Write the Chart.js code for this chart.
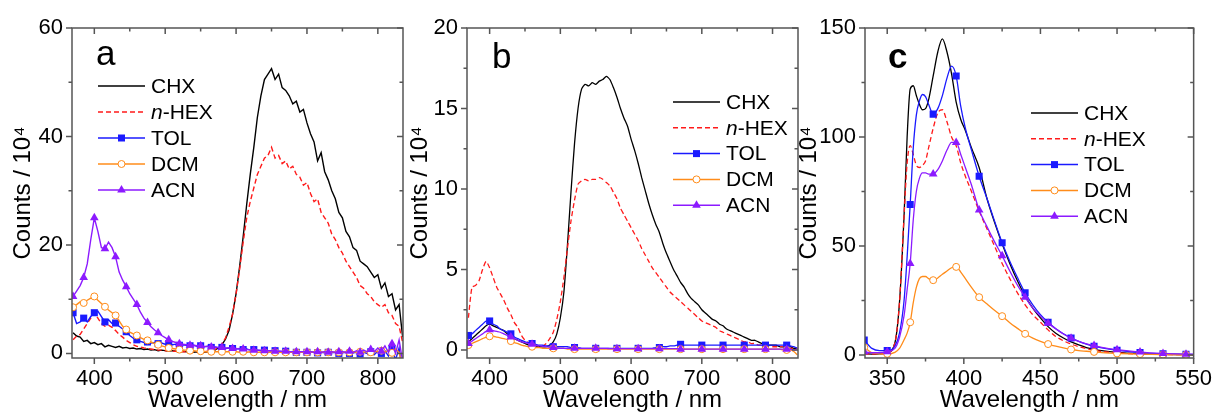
<!DOCTYPE html>
<html>
<head>
<meta charset="utf-8">
<script src="https://cdn.jsdelivr.net/npm/chart.js@4.4.1/dist/chart.umd.min.js"></script>
<style>
  body { margin: 0; background: #fff; }
  #wrap { position: relative; width: 1220px; height: 415px; overflow: hidden; }
  .panel { position: absolute; top: 0; height: 415px; }
</style>
</head>
<body>
<div id="wrap">
  <div class="panel" style="left:0;width:410px"><canvas id="chartA"></canvas></div>
  <div class="panel" style="left:405px;width:400px"><canvas id="chartB"></canvas></div>
  <div class="panel" style="left:795px;width:425px"><canvas id="chartC"></canvas></div>
</div>
<script>
const seriesNames = ['CHX', 'n-HEX', 'TOL', 'DCM', 'ACN'];

// panels a and b share the same wavelength grid
const wavelengthAB = [370,375,380,385,390,395,400,405,410,415,420,425,430,435,440,445,450,455,460,465,
  470,475,480,485,490,495,500,505,510,515,520,525,530,535,540,545,550,555,560,565,
  570,575,580,585,590,595,600,605,610,615,620,625,630,635,640,645,650,655,660,665,
  670,675,680,685,690,695,700,705,710,715,720,725,730,735,740,745,750,755,760,765,
  770,775,780,785,790,795,800,805,810,815,820,825,830,835];

// panel a
const chxA = [3.8,3.2,3.0,2.2,2.4,1.8,2.0,1.6,1.8,1.2,
  1.5,1.3,1.1,1.3,1.0,1.1,0.9,1.0,0.8,0.9,
  0.7,0.8,0.6,0.7,0.5,0.6,0.5,0.4,0.5,0.4,
  0.3,0.4,0.3,0.3,0.2,0.3,0.2,0.2,0.3,0.4,
  0.6,1.0,1.6,2.6,4.2,7.2,11.0,16.0,21.5,27.5,
  33.0,38.0,43.5,47.5,50.5,51.5,52.5,50.5,51.5,49.0,
  48.5,47.5,46.0,46.5,44.5,45.0,42.5,40.5,39.0,35.5,
  37.0,33.5,32.0,30.0,28.5,26.0,25.0,22.5,21.5,19.5,
  19.0,17.0,16.5,16.0,15.0,14.0,14.5,12.0,13.0,10.5,
  11.0,8.0,9.0,3.0];
const hexA = [2.5,3.2,3.5,4.5,5.5,6.5,7.5,6.5,5.5,5.0,
  5.2,4.8,4.2,3.5,3.0,2.4,2.0,1.6,1.3,1.2,
  1.0,0.9,0.8,0.7,0.6,0.6,0.5,0.5,0.4,0.4,
  0.4,0.3,0.3,0.3,0.3,0.3,0.3,0.3,0.4,0.5,
  0.7,1.1,1.8,2.8,4.8,7.2,11.0,15.5,20.5,25.0,
  28.0,30.5,33.0,34.5,36.0,36.5,38.0,36.0,36.5,35.0,
  35.5,34.0,34.5,33.0,32.5,31.0,31.5,29.5,28.0,28.5,
  26.0,25.0,24.0,22.0,21.0,19.5,18.5,17.0,16.0,15.0,
  14.0,12.5,12.0,11.0,10.5,9.5,9.0,8.5,9.0,7.5,
  7.0,5.5,5.0,2.0];
const tolA = [7.5,5.5,5.8,6.5,5.8,6.8,7.5,7.8,6.8,5.8,
  6.2,5.5,5.6,5.0,4.5,4.0,3.3,2.8,2.5,2.2,
  2.0,2.1,1.9,2.0,1.8,1.9,1.7,1.8,1.6,1.7,
  1.5,1.6,1.5,1.4,1.5,1.3,1.4,1.2,1.3,1.1,
  1.2,1.0,1.1,0.9,1.0,0.9,0.8,0.9,0.7,0.8,
  0.6,0.7,0.6,0.5,0.6,0.5,0.4,0.5,0.4,0.3,
  0.4,0.3,0.3,0.2,0.3,0.2,0.2,0.3,0.2,0.1,
  0.2,0.1,0.2,0.1,0.2,0.0,0.1,0.2,0.0,0.1,
  0.2,-0.1,0.2,0.0,0.3,-0.2,0.4,0.0,0.5,-0.5,
  0.8,-1.2,1.0,-4.0];
const dcmA = [8.5,9.0,9.5,9.3,9.8,10.2,10.5,9.8,9.2,8.6,
  8.0,7.5,7.0,6.0,5.0,4.4,3.9,3.6,3.3,2.9,
  2.6,2.4,2.1,1.8,1.6,1.4,1.2,1.0,0.9,0.8,
  0.7,0.6,0.6,0.5,0.5,0.4,0.4,0.3,0.3,0.3,
  0.3,0.3,0.3,0.3,0.3,0.3,0.3,0.2,0.3,0.2,
  0.3,0.2,0.2,0.2,0.2,0.2,0.2,0.2,0.2,0.2,
  0.2,0.2,0.2,0.2,0.2,0.2,0.2,0.2,0.2,0.2,
  0.2,0.2,0.2,0.2,0.2,0.2,0.2,0.2,0.2,0.3,
  0.2,0.3,0.2,0.4,0.2,0.4,0.3,0.5,0.2,0.6,
  0.1,0.8,0.2,-2.5];
const acnA = [10.5,11.5,12.5,14.0,16.5,21.0,25.0,22.5,19.5,19.3,
  20.5,19.5,17.8,15.0,13.5,12.3,11.0,10.0,9.0,7.6,
  6.5,5.7,4.9,4.3,3.8,3.3,2.9,2.5,2.2,2.0,
  1.8,1.7,1.6,1.5,1.5,1.4,1.4,1.3,1.3,1.2,
  1.2,1.1,1.1,1.0,1.0,0.9,0.9,0.8,0.8,0.7,
  0.7,0.6,0.6,0.6,0.5,0.5,0.5,0.4,0.4,0.4,
  0.4,0.3,0.3,0.3,0.3,0.3,0.3,0.3,0.2,0.3,
  0.2,0.3,0.2,0.3,0.2,0.3,0.3,0.2,0.4,0.2,
  0.5,0.2,0.6,0.3,0.7,0.3,1.0,0.4,1.4,0.2,
  1.8,0.0,2.5,-1.5];

// panel b
const chxB = [0.5,0.7,0.9,1.1,1.3,1.5,1.6,1.5,1.4,1.3,
  1.2,1.0,0.9,0.7,0.6,0.5,0.4,0.3,0.3,0.2,
  0.2,0.2,0.2,0.3,0.5,1.0,2.0,3.6,6.5,9.8,
  12.8,15.0,16.2,16.5,16.4,16.6,16.5,16.7,16.8,17.0,
  16.8,16.3,15.7,15.0,14.4,13.9,13.1,12.4,11.6,10.7,
  9.9,9.1,8.4,7.8,7.3,6.6,6.0,5.5,5.0,4.6,
  4.2,3.9,3.5,3.2,3.0,2.8,2.5,2.3,2.1,1.9,
  1.8,1.6,1.5,1.3,1.2,1.1,1.0,0.9,0.8,0.7,
  0.6,0.6,0.5,0.4,0.4,0.3,0.3,0.3,0.2,0.2,
  0.2,0.2,0.1,0.1];
const hexB = [2.0,3.9,4.0,4.3,5.0,5.5,5.1,4.5,3.9,3.5,
  3.1,2.6,2.2,1.7,1.4,0.9,0.6,0.45,0.35,0.3,
  0.25,0.25,0.4,0.7,1.1,1.9,3.0,4.5,6.3,8.0,
  9.3,10.3,10.5,10.6,10.5,10.6,10.6,10.7,10.6,10.4,
  10.2,9.8,9.4,8.8,8.4,8.0,7.6,7.2,6.8,6.3,
  5.9,5.5,5.1,4.8,4.5,4.2,3.9,3.6,3.4,3.2,
  3.0,2.8,2.6,2.4,2.2,2.0,1.8,1.7,1.6,1.5,
  1.4,1.2,1.1,1.0,0.9,0.8,0.7,0.6,0.5,0.5,
  0.4,0.4,0.3,0.3,0.3,0.2,0.2,0.2,0.2,0.2,
  0.1,0.1,0.1,0.1];
const tolB = [0.9,1.0,1.2,1.4,1.6,1.8,1.8,1.6,1.5,1.3,
  1.2,1.1,1.0,0.8,0.7,0.6,0.5,0.45,0.4,0.35,
  0.3,0.3,0.25,0.25,0.2,0.2,0.2,0.2,0.2,0.15,
  0.15,0.15,0.1,0.1,0.1,0.1,0.1,0.1,0.1,0.1,
  0.1,0.1,0.1,0.1,0.1,0.1,0.1,0.1,0.1,0.1,
  0.1,0.1,0.1,0.15,0.15,0.2,0.2,0.25,0.25,0.3,
  0.35,0.3,0.3,0.3,0.3,0.3,0.3,0.3,0.3,0.3,
  0.3,0.3,0.3,0.3,0.3,0.3,0.3,0.3,0.3,0.3,
  0.3,0.3,0.3,0.3,0.3,0.3,0.3,0.3,0.3,0.3,
  0.3,0.25,0.2,0.1];
const dcmB = [0.3,0.4,0.5,0.6,0.7,0.8,0.85,0.85,0.8,0.75,
  0.7,0.65,0.55,0.45,0.4,0.3,0.25,0.2,0.2,0.15,
  0.15,0.1,0.1,0.1,0.1,0.1,0.1,0.1,0.05,0.05,
  0.05,0.05,0.05,0.05,0.05,0.05,0.05,0.05,0.05,0.05,
  0.05,0.05,0.05,0.05,0.05,0.05,0.05,0.05,0.05,0.05,
  0.05,0.05,0.05,0.05,0.05,0.05,0.05,0.05,0.05,0.05,
  0.05,0.05,0.05,0.05,0.05,0.05,0.05,0.05,0.05,0.05,
  0.05,0.05,0.05,0.05,0.05,0.05,0.05,0.05,0.05,0.05,
  0.05,0.05,0.05,0.05,0.05,0.05,0.05,0.05,0.05,0.0,
  0.0,0.0,-0.1,-0.3];
const acnB = [0.4,0.55,0.7,0.85,1.0,1.15,1.25,1.2,1.15,1.1,
  1.0,0.9,0.8,0.7,0.6,0.5,0.45,0.4,0.35,0.3,
  0.25,0.22,0.2,0.18,0.15,0.12,0.1,0.1,0.1,0.1,
  0.1,0.1,0.1,0.1,0.1,0.1,0.1,0.1,0.1,0.1,
  0.08,0.08,0.08,0.08,0.08,0.08,0.08,0.08,0.08,0.08,
  0.08,0.08,0.08,0.08,0.08,0.08,0.08,0.08,0.08,0.08,
  0.05,0.05,0.05,0.05,0.05,0.05,0.05,0.05,0.05,0.05,
  0.05,0.05,0.05,0.05,0.05,0.05,0.05,0.05,0.05,0.05,
  0.05,0.05,0.05,0.05,0.05,0.05,0.05,0.05,0.05,0.05,
  0.05,0.05,0.0,0.0];

// panel c
const wavelengthC = [335,340,345,350,355,358,361,363,365,367,369,371,373,375,377,380,383,386,389,392,
  395,398,401,405,410,415,420,425,430,435,440,445,450,455,460,465,470,475,480,485,
  490,500,515,530,545,550];
const chxC = [0.5,0.4,0.5,1.0,5.5,24,64,100,122,123.5,119,115,112.5,113,117,128,139,145,139,129,
  116,108,103,95,86,72,61,51,42,34,27,21.5,17,13,10,7.8,6,4.6,3.4,2.6,
  2,1.2,0.6,0.3,0.15,0.1];
const hexC = [0.5,0.4,0.5,1.0,5.5,24,64,88,96,92,87,86,87,89,95,104,111,112.5,107,100,
  96,88,82,75,66,58,50,42,35,28.5,23,18.5,15,11.5,8.5,6.5,5,3.8,2.9,2.2,
  1.6,1.0,0.4,0.2,0.1,0.1];
const tolC = [6.8,3,2,2,4,10,25,45,69,95,110,116.5,119.5,118.5,115,110.5,113,119,127,132.5,
  128,114,104,94,82,72,61.5,51.5,43,35.5,28.5,23,18.5,15,12,9.7,7.8,6.2,5,4,
  3.2,2.1,1.1,0.5,0.25,0.2];
const dcmC = [3.5,1,0.5,0.5,1.2,3,7,10,15,24,31,35,36,36,35,34.3,35.3,37,38.5,40,
  40.4,38,35,31,26.5,23.5,20.5,17.8,14.8,12.2,9.7,7.7,6.2,5,4,3.2,2.5,2,1.7,1.4,
  1.1,0.7,0.4,0.2,0.1,0.1];
const acnC = [1.5,1,1,1.5,3,8,18,30,42,62,75,81,83.5,83.5,83,83,85,89,94,97.5,
  97.5,92,86,78,66.5,59,52,45.5,38.5,32,26.5,21.5,17.8,14.6,12,9.6,7.7,6.2,5.1,4.3,
  3.5,2.4,1.3,0.7,0.35,0.3];

// tick labels
const xTicksAB = [400, 500, 600, 700, 800];
const xTicksC = [350, 400, 450, 500, 550];
const yTicksA = [0, 20, 40, 60];
const yTicksB = [0, 5, 10, 15, 20];
const yTicksC = [0, 50, 100, 150];

const FONT = "'Liberation Sans', Arial, sans-serif";
const styles = [
  { color: '#000000', dash: [], marker: null },
  { color: '#ff1a1a', dash: [5, 3], marker: null },
  { color: '#1a1aff', dash: [], marker: 'rect' },
  { color: '#ff8c1a', dash: [], marker: 'circle' },
  { color: '#8c1aff', dash: [], marker: 'triangle' }
];
const markerSize = { rect: 5, circle: 3.5, triangle: 5 };

function drawMarker(ctx, kind, x, y, color) {
  ctx.save();
  ctx.setLineDash([]);
  ctx.beginPath();
  if (kind === 'rect') {
    ctx.rect(x - 3.5, y - 3.5, 7, 7);
    ctx.fillStyle = color;
    ctx.fill();
  } else if (kind === 'circle') {
    ctx.arc(x, y, 3.5, 0, Math.PI * 2);
    ctx.fillStyle = '#fff';
    ctx.fill();
    ctx.lineWidth = 1;
    ctx.strokeStyle = color;
    ctx.stroke();
  } else if (kind === 'triangle') {
    const r = 5;
    ctx.moveTo(x, y - r);
    ctx.lineTo(x + r * 0.866, y + r * 0.5);
    ctx.lineTo(x - r * 0.866, y + r * 0.5);
    ctx.closePath();
    ctx.fillStyle = color;
    ctx.fill();
  }
  ctx.restore();
}

// box around the plot, outward ticks bottom/left, inward ticks top/right
const frameTicks = {
  id: 'frameTicks',
  afterDraw(chart) {
    const { ctx, chartArea: a } = chart;
    const list = scale => {
      const major = scale.ticks.map(t => t.value);
      const half = (major[1] - major[0]) / 2;
      const out = [];
      for (let v = major[0] - half; v <= scale.max + 1e-9; v += half) {
        if (v >= scale.min - 1e-9) out.push([v, major.some(m => Math.abs(m - v) < 1e-6)]);
      }
      return out;
    };
    ctx.save();
    ctx.strokeStyle = '#555';
    ctx.lineWidth = 1.5;
    ctx.strokeRect(a.left, a.top, a.right - a.left, a.bottom - a.top);
    ctx.beginPath();
    list(chart.scales.x).forEach(([v, major]) => {
      const p = chart.scales.x.getPixelForValue(v);
      const len = major ? 6 : 3.5;
      ctx.moveTo(p, a.bottom); ctx.lineTo(p, a.bottom + len);
      ctx.moveTo(p, a.top); ctx.lineTo(p, a.top + len);
    });
    list(chart.scales.y).forEach(([v, major]) => {
      const p = chart.scales.y.getPixelForValue(v);
      const len = major ? 6 : 3.5;
      ctx.moveTo(a.left, p); ctx.lineTo(a.left - len, p);
      ctx.moveTo(a.right, p); ctx.lineTo(a.right - len, p);
    });
    ctx.stroke();
    ctx.restore();
  }
};

// in-plot legend and panel letter
const annot = {
  id: 'annot',
  afterDraw(chart, args, opts) {
    const { ctx, chartArea: a } = chart;
    ctx.save();
    ctx.fillStyle = '#000';
    ctx.textBaseline = 'alphabetic';
    ctx.font = (opts.bold ? 'bold ' : '') + '35px ' + FONT;
    ctx.fillText(opts.letter, a.left + opts.letterX, a.top + 40 - (opts.letter === 'a' ? 3 : 0));

    ctx.textBaseline = 'middle';
    chart.data.datasets.forEach((ds, i) => {
      const st = styles[i];
      const y = a.top + opts.y + i * opts.gap;
      const x0 = a.left + opts.x;
      ctx.beginPath();
      ctx.strokeStyle = st.color;
      ctx.lineWidth = 1.5;
      ctx.setLineDash(st.dash);
      ctx.moveTo(x0, y);
      ctx.lineTo(x0 + 47, y);
      ctx.stroke();
      ctx.setLineDash([]);
      if (st.marker) drawMarker(ctx, st.marker, x0 + 23.5, y, st.color);
      let tx = x0 + 53;
      ctx.fillStyle = '#000';
      if (seriesNames[i] === 'n-HEX') {
        ctx.font = 'italic 21px ' + FONT;
        ctx.fillText('n', tx, y + 1);
        tx += ctx.measureText('n').width;
        ctx.font = '21px ' + FONT;
        ctx.fillText('-HEX', tx, y + 1);
      } else {
        ctx.font = '21px ' + FONT;
        ctx.fillText(seriesNames[i], tx, y + 1);
      }
    });
    ctx.restore();
  }
};

function makePanel(id, p) {
  const datasets = p.series.map((vals, i) => {
    const st = styles[i];
    return {
      label: seriesNames[i],
      data: p.wl.map((w, k) => ({ x: w, y: vals[k] })),
      borderColor: st.color,
      backgroundColor: st.marker === 'circle' ? '#fff' : st.color,
      borderWidth: p.lw,
      borderDash: st.dash,
      pointStyle: st.marker || 'circle',
      pointBorderWidth: st.marker === 'circle' ? 1 : 0,
      pointBorderColor: st.color,
      pointBackgroundColor: st.marker === 'circle' ? '#fff' : st.color,
      pointRadius: c => (st.marker && c.raw && Math.abs((c.raw.x - p.markStart) % p.markStep) < 1e-6) ? markerSize[st.marker] : 0,
      tension: p.tension,
      cubicInterpolationMode: p.monotone ? 'monotone' : 'default',
      order: 4 - i,
      fill: false
    };
  });

  return new Chart(document.getElementById(id), {
    type: 'line',
    data: { datasets: datasets },
    options: {
      responsive: true,
      maintainAspectRatio: false,
      animation: false,
      events: [],
      layout: { padding: { top: 28, right: p.padRight, left: 0, bottom: 0 } },
      plugins: {
        legend: { display: false },
        tooltip: { enabled: false },
        annot: p.annot
      },
      scales: {
        x: {
          type: 'linear',
          min: p.xMin,
          max: p.xMax,
          afterBuildTicks: s => { s.ticks = p.xTicks.map(v => ({ value: v })); },
          afterFit: s => { s.height = 57; },
          grid: { display: false, drawTicks: false },
          border: { display: false },
          ticks: { font: { family: FONT, size: 22 }, color: '#000', padding: 8, maxRotation: 0 },
          title: { display: true, text: 'Wavelength / nm', color: '#000',
                   font: { family: FONT, size: 24 }, padding: { top: 0, bottom: 0 } }
        },
        y: {
          min: p.yMin,
          max: p.yMax,
          afterBuildTicks: s => { s.ticks = p.yTicks.map(v => ({ value: v })); },
          afterFit: s => { s.width = p.yWidth; },
          grid: { display: false, drawTicks: false },
          border: { display: false },
          ticks: { font: { family: FONT, size: 22 }, color: '#000', padding: 9 },
          title: { display: true, text: 'Counts / 10⁴', color: '#000',
                   font: { family: FONT, size: 24 }, padding: { top: p.titlePad, bottom: 0 } }
        }
      }
    },
    plugins: [frameTicks, annot]
  });
}

makePanel('chartA', {
  wl: wavelengthAB, series: [chxA, hexA, tolA, dcmA, acnA],
  xMin: 368.5, xMax: 835.5, yMin: -0.85, yMax: 60,
  xTicks: xTicksAB, yTicks: yTicksA,
  yWidth: 72, titlePad: 9, padRight: 7,
  lw: 1.4, tension: 0, monotone: false, markStart: 370, markStep: 15,
  annot: { letter: 'a', letterX: 24, bold: false, x: 26, y: 58, gap: 26 }
});

makePanel('chartB', {
  wl: wavelengthAB, series: [chxB, hexB, tolB, dcmB, acnB],
  xMin: 368, xMax: 836, yMin: -0.5, yMax: 20,
  xTicks: xTicksAB, yTicks: yTicksB,
  yWidth: 62, titlePad: 1, padRight: 7,
  lw: 1.3, tension: 0.2, monotone: false, markStart: 370, markStep: 30,
  annot: { letter: 'b', letterX: 25, bold: false, x: 206, y: 74, gap: 25.8 }
});

makePanel('chartC', {
  wl: wavelengthC, series: [chxC, hexC, tolC, dcmC, acnC],
  xMin: 335.5, xMax: 550, yMin: -1.4, yMax: 150,
  xTicks: xTicksC, yTicks: yTicksC,
  yWidth: 70, titlePad: 0, padRight: 23,
  lw: 1.3, tension: 0, monotone: true, markStart: 335, markStep: 15,
  annot: { letter: 'c', letterX: 23, bold: true, x: 166, y: 85, gap: 25.8 }
});
</script>
</body>
</html>
